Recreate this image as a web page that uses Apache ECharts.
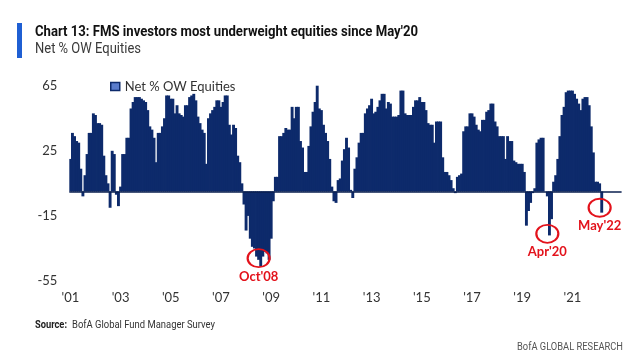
<!DOCTYPE html>
<html>
<head>
<meta charset="utf-8">
<script src="https://cdn.jsdelivr.net/npm/echarts@6/dist/echarts.min.js"></script>
<style>
  html, body { margin: 0; padding: 0; background: #fff; }
  #chart { width: 633px; height: 361px; }
</style>
</head>
<body>
<div id="chart"></div>
<script>
// ---- Data ----
const startYear = 2001;
const startMonth = 2;          // March (0-based)
const monthCount = 264;        // Mar'01 .. Feb'23 on the axis
const monthNames = ['Jan','Feb','Mar','Apr','May','Jun','Jul','Aug','Sep','Oct','Nov','Dec'];

// Net % OW Equities, monthly from Mar'01 to May'22
const netOW = [
  20, 36, 34, 31, 30, 14, -3, 10, 23, 36,
  36, 48, 47, 42, 42, 41, 22, 10, 5, -10,
  25, 23, -2, -9, 3, 23, 23, 33, 33, 51,
  55, 58, 58, 58, 57, 56, 55, 50, 40, 38,
  33, 18, 36, 36, 40, 45, 59, 59, 57, 57,
  48, 53, 48, 47, 46, 53, 53, 58, 59, 60,
  56, 46, 42, 38, 36, 17, 45, 48, 50, 52,
  56, 56, 52, 55, 59, 59, 41, 35, 41, 39,
  22, 18, 5, -8, -24, -15, -29, -34, -35, -40,
  -42, -46, -40, -37, -38, -42, -29, -6, 9, 9,
  34, 34, 36, 39, 38, 38, 52, 45, 52, 52,
  31, 27, 12, 12, 28, 40, 49, 55, 67, 51,
  50, 41, 36, 31, 20, 3, -6, -7, 7, 8,
  19, 26, 33, 27, 1, -4, 14, 21, 30, 36,
  36, 48, 51, 53, 57, 48, 49, 52, 56, 60,
  60, 51, 55, 54, 46, 46, 46, 47, 62, 62,
  48, 47, 47, 47, 52, 56, 56, 58, 55, 55,
  50, 42, 41, 41, 30, 43, 43, 43, 21, 12,
  12, 10, 7, 2, -1, 9, 10, 11, 37, 40,
  40, 48, 48, 46, 41, 38, 37, 44, 44, 49,
  50, 54, 54, 43, 40, 34, 34, 34, 20, 34,
  31, 31, 19, 18, 17, 17, 17, 12, -21, -12,
  -7, -1, 2, 30, 32, 33, 33, 0, -3, -27,
  -17, 6, 10, 20, 34, 47, 52, 61, 62, 62,
  62, 60, 57, 54, 50, 57, 58, 58, 53, 40,
  24, 6, 6, 5, -13
];

const tickLabels = ["'01","'03","'05","'07","'09","'11","'13","'15","'17","'19","'21"];
const yTicks = [-55, -15, 25, 65];

// Annotated points: [category index, value at circle centre, label]
const callouts = [
  [90, -41, "Oct'08"],
  [228, -26, "Apr'20"],
  [253, -10, "May'22"]
];

const titleText = "Chart 13: FMS investors most underweight equities since May'20";
const subtitleText = 'Net % OW Equities';
const sourceLabel = 'Source:';
const sourceText = 'BofA Global Fund Manager Survey';
const footerText = 'BofA GLOBAL RESEARCH';
const seriesName = 'Net % OW Equities';

// ---- Build ----
const categories = [];
for (let i = 0; i < monthCount; i++) {
  const m = (startMonth + i) % 12;
  const y = startYear + Math.floor((startMonth + i) / 12);
  categories.push(monthNames[m] + "'" + String(y).slice(-2));
}
const seriesData = categories.map((c, i) => (i < netOW.length ? netOW[i] : null));

const NAVY = '#0d2a6b';
const RED = '#e3121b';
const AXISFONT = "Lato, 'Open Sans', sans-serif";

// condensed text via horizontal scaling (no condensed font installed)
const measureCtx = document.createElement('canvas').getContext('2d');
function scaleFor(text, font, targetWidth) {
  measureCtx.font = font;
  return targetWidth / measureCtx.measureText(text).width;
}
function condensedText(text, font, x, y, width, fill, align) {
  const s = scaleFor(text, font, width);
  return {
    type: 'text', x: x, y: y, scaleX: s, silent: true,
    style: { text: text, font: font, fill: fill, align: align || 'left', verticalAlign: 'middle' }
  };
}

const F_TITLE = 'bold 15px Roboto';
const F_SUB = '14px Roboto';
const F_SRC_B = 'bold 11px Roboto';
const F_SRC = '11px Roboto';

const chart = echarts.init(document.getElementById('chart'), null, { renderer: 'canvas' });

chart.setOption({
  animation: false,
  backgroundColor: '#fff',
  graphic: [
    { type: 'rect', x: 17, y: 23, shape: { width: 5, height: 35 }, style: { fill: '#1f5fd3' }, silent: true },
    condensedText(titleText, F_TITLE, 35, 32, 383, '#111'),
    condensedText(subtitleText, F_SUB, 35, 49.5, 106, '#3a3a3a'),
    condensedText(sourceLabel, F_SRC_B, 35, 325, 32, '#222'),
    condensedText(sourceText, F_SRC, 72, 325, 143, '#333'),
    condensedText(footerText, F_SRC, 623, 347, 106, '#555', 'right')
  ],
  legend: {
    data: [{ name: seriesName, icon: 'rect',
             itemStyle: { color: '#5a7ccc', borderColor: NAVY, borderWidth: 1.5 } }],
    left: 110, top: 80, padding: 0,
    itemWidth: 9, itemHeight: 8, itemGap: 10,
    textStyle: { fontFamily: AXISFONT, fontSize: 13, color: '#333' }
  },
  grid: { left: 69.3, right: 11.4, top: 85.7, bottom: 80, containLabel: false },
  xAxis: {
    type: 'category',
    data: categories,
    axisLine: { show: false, onZero: false },
    axisTick: { show: false },
    splitLine: { show: false },
    axisLabel: {
      interval: (idx) => idx % 24 === 0 && idx / 24 < tickLabels.length,
      formatter: (val, idx) => tickLabels[idx / 24] || '',
      fontFamily: AXISFONT, fontSize: 13, color: '#333', margin: 10
    }
  },
  yAxis: {
    type: 'value',
    min: yTicks[0], max: yTicks[yTicks.length - 1], interval: 40,
    axisLine: { show: false },
    axisTick: { show: false },
    splitLine: { show: false },
    axisLabel: { fontFamily: AXISFONT, fontSize: 13, color: '#333', margin: 12 }
  },
  series: [{
    name: seriesName,
    type: 'bar',
    data: seriesData,
    barWidth: 2.9,
    itemStyle: { color: NAVY },
    markLine: {
      silent: true, symbol: ['none', 'none'],
      label: { show: false },
      lineStyle: { color: '#0a1f4f', width: 1.6, type: 'solid' },
      data: [{ yAxis: 0 }]
    },
    markPoint: {
      silent: true,
      symbol: 'circle',
      symbolSize: [22, 18],
      itemStyle: { color: 'rgba(0,0,0,0)', borderColor: RED, borderWidth: 2 },
      label: {
        show: true, position: 'bottom', distance: 2,
        fontFamily: AXISFONT, fontSize: 13, fontWeight: 'bold', color: RED
      },
      data: callouts.map(c => ({
        coord: [categories[c[0]], c[1]],
        value: c[2],
        label: { formatter: c[2] }
      }))
    }
  }]
});
</script>
</body>
</html>
